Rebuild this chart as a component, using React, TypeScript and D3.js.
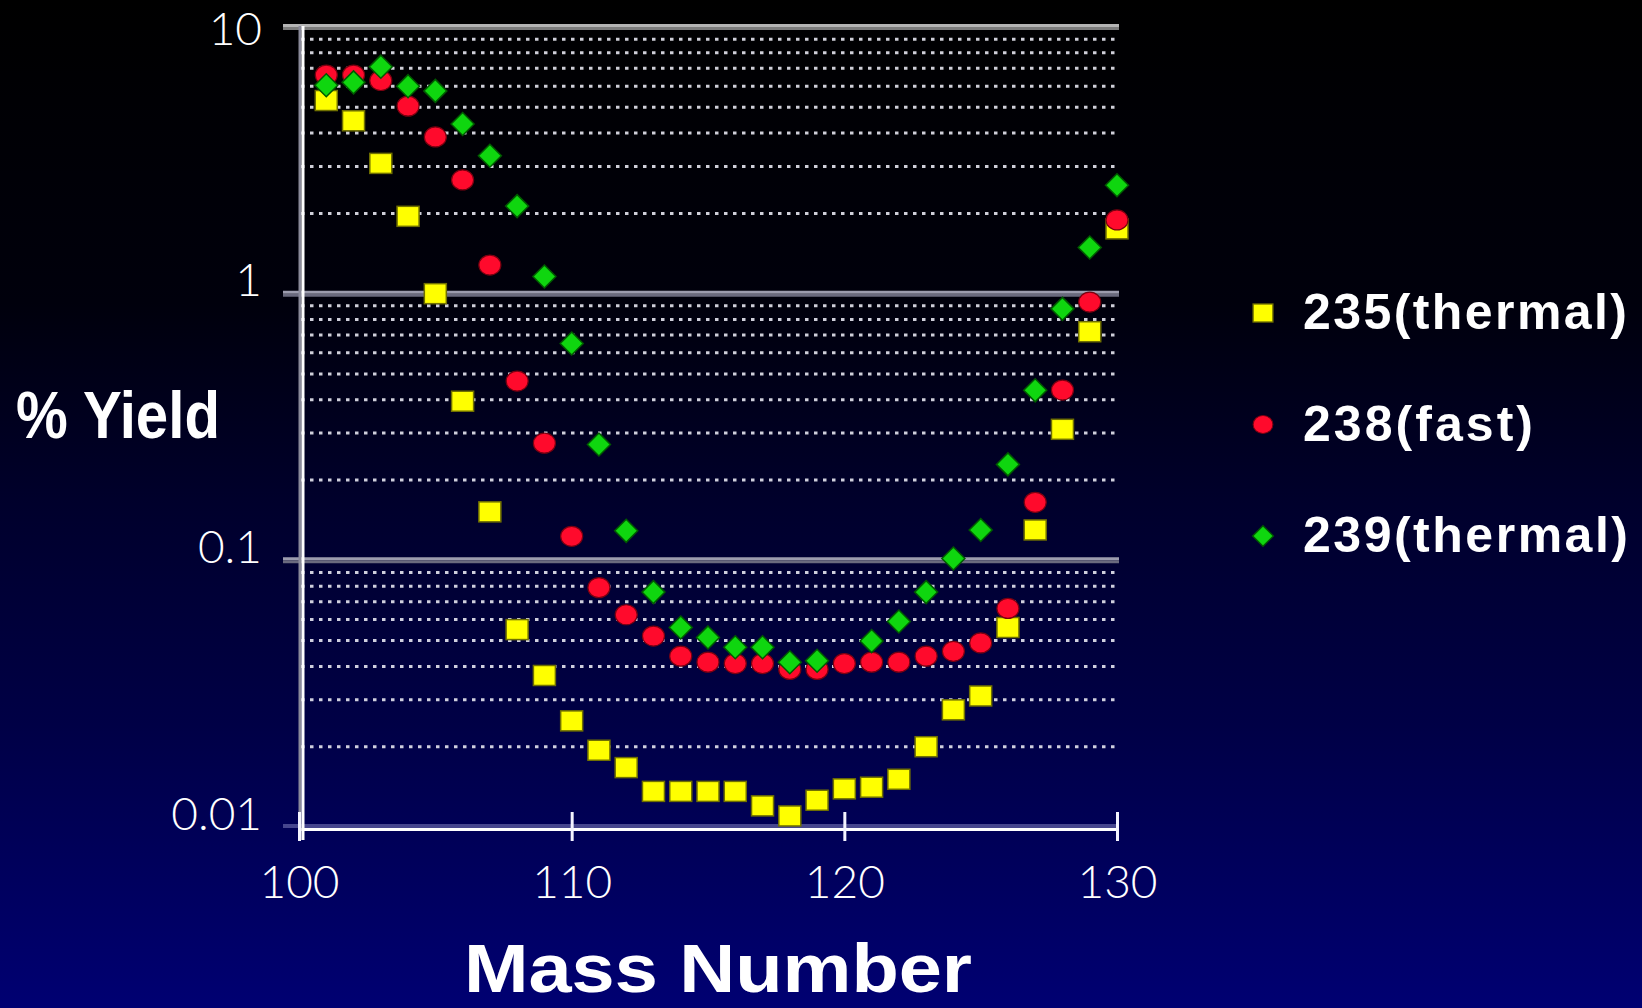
import React, { useEffect, useRef } from 'react'
import { select, scaleLinear, scaleLog, axisBottom } from 'd3'

// mass numbers on the x axis
const massNumbers = [
  101, 102, 103, 104, 105, 106, 107, 108, 109, 110,
  111, 112, 113, 114, 115, 116, 117, 118, 119, 120,
  121, 122, 123, 124, 125, 126, 127, 128, 129, 130,
]

// % yield
const u235Thermal = [
  5.3, 4.45, 3.08, 1.95, 1.0, 0.395, 0.152, 0.055, 0.037, 0.025,
  0.0194, 0.0167, 0.0136, 0.0136, 0.0136, 0.0136, 0.012, 0.011, 0.0126, 0.0139,
  0.0141, 0.0151, 0.02, 0.0275, 0.031, 0.056, 0.13, 0.31, 0.72, 1.75,
]
const u238Fast = [
  6.6, 6.6, 6.3, 5.05, 3.87, 2.67, 1.28, 0.47, 0.275, 0.123,
  0.079, 0.0625, 0.052, 0.0437, 0.0415, 0.041, 0.041, 0.039, 0.039, 0.041,
  0.0415, 0.0415, 0.0437, 0.0456, 0.049, 0.066, 0.165, 0.435, 0.93, 1.89,
]
const pu239Thermal = [
  6.05, 6.2, 7.1, 6.0, 5.76, 4.33, 3.29, 2.13, 1.16, 0.65,
  0.272, 0.129, 0.076, 0.056, 0.0514, 0.0472, 0.0472, 0.0415, 0.042, null,
  0.0498, 0.059, 0.076, 0.1016, 0.13, 0.229, 0.434, 0.877, 1.49, 2.55,
]

const seriesNames = ['235(thermal)', '238(fast)', '239(thermal)']
const seriesKinds = ['square', 'circle', 'diamond']

const xTicks = [100, 110, 120, 130]
const yTicks = [10, 1, 0.1, 0.01]
const yTickLabels = ['10', '1', '0.1', '0.01']
const majorGrid = [10, 1, 0.1]
const gridDecades = [0.01, 0.1, 1]
const gridSteps = [2, 3, 4, 5, 6, 7, 8, 9]

const W = 1642
const H = 1008
const plotLeft = 301
const plotRight = 1118
const thinFont = 'Lato, "Liberation Sans", sans-serif'
const boldFont = '"Liberation Sans", Arial, sans-serif'

function drawMarker(g: any, kind: string) {
  if (kind === 'square') {
    g.append('rect')
      .attr('x', -11).attr('y', -10).attr('width', 22).attr('height', 20)
      .attr('fill', '#ffff00').attr('stroke', '#707000').attr('stroke-width', 1.5)
  } else if (kind === 'circle') {
    g.append('ellipse')
      .attr('rx', 11).attr('ry', 10)
      .attr('fill', '#ff0a2c').attr('stroke', '#7a0010').attr('stroke-width', 1.2)
  } else {
    g.append('path')
      .attr('d', 'M0,-11.5L11.5,0L0,11.5L-11.5,0Z')
      .attr('fill', '#0fd60f').attr('stroke', '#005a00').attr('stroke-width', 1.5)
  }
}

export default function App() {
  const svgRef = useRef<SVGSVGElement>(null)

  useEffect(() => {
    document.body.style.margin = '0'
    const svg = select(svgRef.current)
    svg.selectAll('*').remove()

    const xScale = scaleLinear().domain([100, 130]).range([299, 1117])
    const yScale = scaleLog().domain([0.01, 10]).range([827, 27])

    // background
    const defs = svg.append('defs')
    const grad = defs.append('linearGradient')
      .attr('id', 'bg').attr('x1', 0).attr('y1', 0).attr('x2', 0).attr('y2', 1)
    grad.append('stop').attr('offset', '0').attr('stop-color', '#000000')
    grad.append('stop').attr('offset', '0.3').attr('stop-color', '#00000c')
    grad.append('stop').attr('offset', '0.5').attr('stop-color', '#00002c')
    grad.append('stop').attr('offset', '0.72').attr('stop-color', '#000046')
    grad.append('stop').attr('offset', '1').attr('stop-color', '#000072')
    svg.append('rect').attr('width', W).attr('height', H).attr('fill', 'url(#bg)')

    // dotted minor grid
    const minor = gridDecades.flatMap(d => gridSteps.map(k => k * d))
    svg.append('g')
      .selectAll('line')
      .data(minor)
      .join('line')
      .attr('x1', plotLeft)
      .attr('x2', plotRight - 2)
      .attr('y1', d => yScale(d))
      .attr('y2', d => yScale(d))
      .attr('stroke', '#e6e6f0')
      .attr('stroke-width', 3)
      .attr('stroke-dasharray', '3.5 5.5')
      .attr('opacity', 0.9)

    // solid decade lines
    const major = svg.append('g')
    major.selectAll('.maj-top')
      .data(majorGrid)
      .join('line')
      .attr('class', 'maj-top')
      .attr('x1', 283).attr('x2', plotRight + 1)
      .attr('y1', d => yScale(d) - 1.5).attr('y2', d => yScale(d) - 1.5)
      .attr('stroke', d => (d === 10 ? '#b4b4b4' : '#9c9cae'))
      .attr('stroke-width', 3)
    major.selectAll('.maj-bot')
      .data(majorGrid)
      .join('line')
      .attr('class', 'maj-bot')
      .attr('x1', 283).attr('x2', plotRight + 1)
      .attr('y1', d => yScale(d) + 1.5).attr('y2', d => yScale(d) + 1.5)
      .attr('stroke', d => (d === 10 ? '#7c7c7c' : '#6a6a7e'))
      .attr('stroke-width', 3)

    // bottom axis band + line
    const y0 = yScale(0.01)
    svg.append('rect')
      .attr('x', 283).attr('y', y0 - 3).attr('width', plotRight - 283).attr('height', 4)
      .attr('fill', '#46468e')
    svg.append('line')
      .attr('x1', plotLeft).attr('x2', plotRight)
      .attr('y1', y0 + 2.5).attr('y2', y0 + 2.5)
      .attr('stroke', '#ffffff').attr('stroke-width', 3)

    // y axis line
    svg.append('line')
      .attr('x1', plotLeft - 1).attr('x2', plotLeft - 1)
      .attr('y1', 26).attr('y2', 840)
      .attr('stroke', '#8a8a9a').attr('stroke-width', 3)
    svg.append('line')
      .attr('x1', plotLeft + 2).attr('x2', plotLeft + 2)
      .attr('y1', 26).attr('y2', 840)
      .attr('stroke', '#ffffff').attr('stroke-width', 3)

    // x axis ticks + labels
    const xAxis = axisBottom(xScale).tickValues(xTicks).tickSize(29).tickFormat(d => String(d))
    const xg = svg.append('g')
      .attr('transform', `translate(0, ${y0 - 15})`)
      .call(xAxis)
    xg.select('.domain').remove()
    xg.selectAll('line').attr('stroke', '#f4f4ff').attr('stroke-width', 3)
    xg.selectAll('text')
      .attr('y', 86)
      .attr('dy', 0)
      .attr('fill', '#ffffff')
      .style('font-family', thinFont)
      .style('font-weight', 300)
      .style('font-size', '46px')

    // y tick labels
    svg.append('g')
      .selectAll('text')
      .data(yTicks)
      .join('text')
      .attr('x', 262)
      .attr('y', d => Math.max(yScale(d) + 2.5, 45))
      .attr('text-anchor', 'end')
      .attr('fill', '#ffffff')
      .style('font-family', thinFont)
      .style('font-weight', 300)
      .style('font-size', '46px')
      .text((d, i) => yTickLabels[i])

    // points
    const allSeries = [u235Thermal, u238Fast, pu239Thermal]
    allSeries.forEach((values, si) => {
      const pts = massNumbers
        .map((m, i) => ({ m, v: values[i] }))
        .filter(p => p.v != null)
      svg.append('g')
        .selectAll('g')
        .data(pts)
        .join('g')
        .attr('transform', p => `translate(${xScale(p.m)}, ${yScale(p.v as number)})`)
        .each(function () {
          drawMarker(select(this), seriesKinds[si])
        })
    })

    // axis titles
    svg.append('text')
      .attr('x', 16).attr('y', 438)
      .attr('fill', '#ffffff')
      .attr('textLength', 204)
      .attr('lengthAdjust', 'spacingAndGlyphs')
      .style('font-family', boldFont)
      .style('font-weight', 700)
      .style('font-size', '67px')
      .text('% Yield')
    svg.append('text')
      .attr('x', 464).attr('y', 992)
      .attr('fill', '#ffffff')
      .attr('textLength', 508)
      .attr('lengthAdjust', 'spacingAndGlyphs')
      .style('font-family', boldFont)
      .style('font-weight', 700)
      .style('font-size', '68px')
      .text('Mass Number')

    // legend
    const legendWidths = [324, 230, 325]
    const legend = svg.append('g')
      .selectAll('g')
      .data(seriesNames)
      .join('g')
      .attr('transform', (d, i) => `translate(1263, ${313 + i * 111.5})`)
    legend.each(function (d, i) {
      const g = select(this)
      const mk = g.append('g').attr('transform', 'scale(0.9)')
      drawMarker(mk, seriesKinds[i])
      g.append('text')
        .attr('x', 40)
        .attr('y', 16)
        .attr('fill', '#ffffff')
        .attr('textLength', legendWidths[i])
        .style('font-family', boldFont)
        .style('font-weight', 700)
        .style('font-size', '50px')
        .text(d)
    })
  }, [])

  return (
    <svg
      ref={svgRef}
      width={W}
      height={H}
      style={{ position: 'fixed', top: 0, left: 0, display: 'block' }}
    />
  )
}
